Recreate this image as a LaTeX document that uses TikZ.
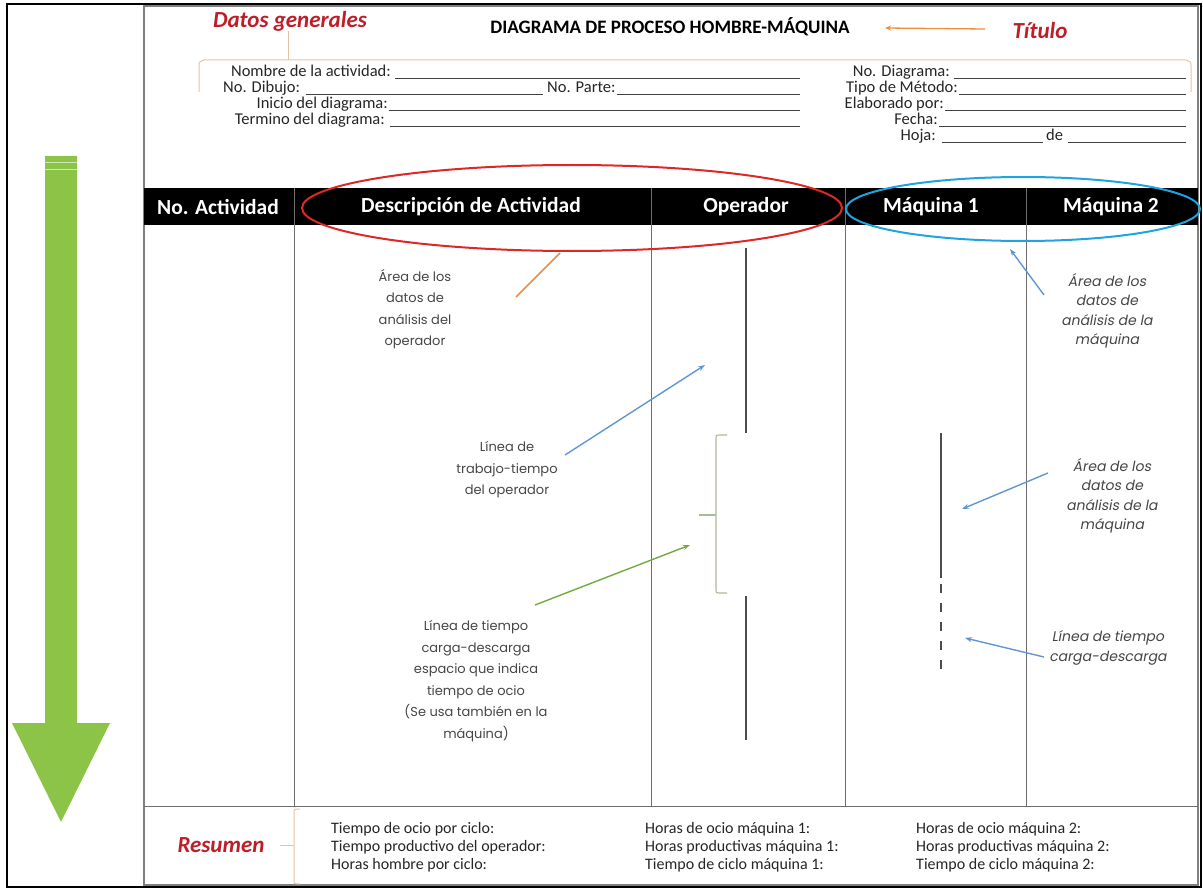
\documentclass[tikz,border=0pt]{standalone}
\usepackage{fontspec}
\setmainfont{Carlito}
\newfontfamily\gothic{Poppins}
\newfontfamily\gothicsl{Poppins}[FakeSlant=0.18]
\usetikzlibrary{arrows.meta,shapes.geometric}

\definecolor{notered}{RGB}{190,30,40}
\definecolor{ringred}{RGB}{222,40,40}
\definecolor{ringblue}{RGB}{30,165,225}
\definecolor{tipblue}{RGB}{95,150,210}
\definecolor{tipgreen}{RGB}{115,170,60}
\definecolor{tiporange}{RGB}{240,140,60}
\definecolor{bracetan}{RGB}{228,195,165}
\definecolor{bracegreen}{RGB}{170,185,150}
\definecolor{bigarrow}{RGB}{140,196,72}
\definecolor{gridgray}{RGB}{110,110,110}
\definecolor{notegray}{RGB}{70,70,70}

\begin{document}
\begin{tikzpicture}[x=1pt,y=-1pt,
  fld/.style={font=\fontsize{16.5}{18}\selectfont, text=black!85, inner sep=0pt},
  fline/.style={draw=black!75, line width=0.8pt},
  colhead/.style={font=\fontsize{21.5}{24}\selectfont\bfseries, text=white, inner sep=0pt},
  tag/.style={font=\fontsize{23}{26}\selectfont\bfseries\itshape, text=notered, inner sep=0pt},
  note/.style={font=\gothic\fontsize{13}{21.5}\selectfont, text=notegray, align=center, inner sep=0pt},
  mnote/.style={font=\gothicsl\fontsize{14}{19.5}\selectfont, text=notegray, align=center, inner sep=0pt},
  sumtxt/.style={font=\fontsize{16}{18}\selectfont, text=black!85, align=left, inner sep=0pt, anchor=west},
  pointer/.style={line width=1.4pt, -{Stealth[length=7pt,width=5pt]}},
  timebar/.style={draw=black!70, line width=2.6pt},
  grid/.style={draw=gridgray, line width=1pt},
]
\useasboundingbox (0,0) rectangle (1203,888);

% frames
\draw[line width=1.5pt] (7,4) rectangle (1201,887);
\draw[draw=gray, line width=1.2pt] (144,6) rectangle (1198,885);

% big flow arrow on the left
\fill[bigarrow] (45,156) -- (77,156) -- (77,723) -- (110,723) -- (61,822) -- (12,723) -- (45,723) -- cycle;
\draw[white!60!bigarrow, line width=1pt] (45,163) -- (77,163);
\draw[white!60!bigarrow, line width=1pt] (45,170) -- (77,170);

% header band and columns
\fill[black] (144,188) rectangle (1198,225);
\draw[grid] (294,188) -- (294,806);
\draw[grid] (651,188) -- (651,806);
\draw[grid] (845,188) -- (845,806);
\draw[grid] (1026,188) -- (1026,806);
\draw[grid] (144,806) -- (1198,806);

\node[colhead] (hnum) at (218,207) {No. Actividad};
\node[colhead] (hdesc) at (471,207) {Descripción de Actividad};
\node[colhead] (hop) at (746,207) {Operador};
\node[colhead] (hm1) at (931,207) {Máquina 1};
\node[colhead] (hm2) at (1111,207) {Máquina 2};

% title and general data
\node[font=\fontsize{19}{22}\selectfont\bfseries] (title) at (670,27) {DIAGRAMA DE PROCESO HOMBRE-MÁQUINA};
\node[tag] (titletag) at (1040,31) {Título};
\coordinate (ta) at (985,29);
\coordinate (tb) at (885,28);
\draw[tiporange, line width=1.3pt, -{Stealth[length=6pt,width=5pt]}] (ta) -- (tb);

\node[tag] (datos) at (290,21) {Datos generales};
\coordinate (dstem) at (288,60);
\draw[bracetan, line width=1pt] (datos.south -| dstem) -- (dstem);
\draw[bracetan, line width=1pt] (199,92) -- (199,66) .. controls (199,62) .. (204,60) -- (1186,60) .. controls (1191,62) .. (1191,66) -- (1191,92);

% form fields, left block
\node[fld, anchor=base east] (fnom) at (391,77) {Nombre de la actividad:};
\draw[fline] (fnom.base east) ++(4,1) -- (800,78);
\node[fld, anchor=base west] (fdib) at (223,93) {No. Dibujo:};
\draw[fline] (306,94) -- (543,94);
\node[fld, anchor=base west] (fpar) at (547,93) {No. Parte:};
\draw[fline] (fpar.base east) ++(1,1) -- (800,94);
\node[fld, anchor=base east] (fini) at (388,109) {Inicio del diagrama:};
\draw[fline] (fini.base east) ++(1,1) -- (800,110);
\node[fld, anchor=base east] (fter) at (385,125) {Termino del diagrama:};
\draw[fline] (fter.base east) ++(5,1) -- (800,126);

% form fields, right block
\node[fld, anchor=base east] (fdia) at (950,77) {No. Diagrama:};
\draw[fline] (fdia.base east) ++(4,1) -- (1186,78);
\node[fld, anchor=base east] (fmet) at (958,93) {Tipo de Método:};
\draw[fline] (fmet.base east) ++(1,1) -- (1186,94);
\node[fld, anchor=base east] (felab) at (944,109) {Elaborado por:};
\draw[fline] (felab.base east) ++(1,1) -- (1186,110);
\node[fld, anchor=base east] (ffec) at (938,125) {Fecha:};
\draw[fline] (ffec.base east) ++(1,1) -- (1186,126);
\node[fld, anchor=base east] (fhoj) at (936,141) {Hoja:};
\draw[fline] (942,142) -- (1043,142);
\node[fld, anchor=base west] (fde) at (1046,141) {de};
\draw[fline] (fde.base east) ++(5,1) -- (1186,142);

% highlight rings
\node[draw=ringred, line width=2pt, ellipse, minimum width=540pt, minimum height=86pt, inner sep=0pt] (opring) at (572,208) {};
\node[draw=ringblue, line width=2pt, ellipse, minimum width=354pt, minimum height=64pt, inner sep=0pt] (mring) at (1023,209) {};

% operator time line with idle gap
\draw[timebar] (746,248) -- (746,433);
\draw[timebar] (746,596) -- (746,740);
\draw[bracegreen, line width=1.1pt] (727,435) -- (719,435) .. controls (716,435) .. (716,438) -- (716,590) .. controls (716,593) .. (719,593) -- (727,593);
\draw[bracegreen, line width=1.1pt] (716,515) -- (699,515);

% machine time line with load/unload segment
\draw[timebar] (941,433) -- (941,578);
\draw[timebar, dash pattern=on 9pt off 10pt] (941,584) -- (941,672);

% annotations, operator side
\node[note] (opnote) at (415,309) {Área de los\\datos de\\análisis del\\operador};
\coordinate (o1) at (516,297);
\coordinate (o2) at (560,253);
\draw[tiporange, line width=1.6pt] (o1) -- (o2);

\node[note] (worknote) at (507,470) {Línea de\\trabajo-tiempo\\del operador};
\coordinate (w1) at (565,455);
\coordinate (w2) at (705,365);
\draw[pointer, tipblue] (w1) -- (w2);

\node[note] (idlenote) at (476,681) {Línea de tiempo\\carga-descarga\\espacio que indica\\tiempo de ocio\\(Se usa también en la\\máquina)};
\coordinate (g1) at (535,605);
\coordinate (g2) at (690,545);
\draw[pointer, tipgreen] (g1) -- (g2);

% annotations, machine side
\node[mnote] (m1note) at (1107,311) {Área de los\\datos de\\análisis de la\\máquina};
\coordinate (r1) at (1044,295);
\coordinate (r2) at (1010,249);
\draw[pointer, tipblue] (r1) -- (r2);

\node[mnote] (m2note) at (1112,496) {Área de los\\datos de\\análisis de la\\máquina};
\coordinate (s1) at (1048,473);
\coordinate (s2) at (962,509);
\draw[pointer, tipblue] (s1) -- (s2);

\node[mnote] (m3note) at (1108,648) {Línea de tiempo\\carga-descarga};
\coordinate (u1) at (1044,657);
\coordinate (u2) at (965,638);
\draw[pointer, tipblue] (u1) -- (u2);

% summary
\node[tag] (resumen) at (221,845) {Resumen};
\draw[bracetan, line width=1pt] (300,809) .. controls (294,809) .. (294,813) -- (294,880) .. controls (294,884) .. (300,884);
\draw[bracetan, line width=1pt] (294,845) -- (280,845);

\node[sumtxt] (s11) at (331,829) {Tiempo de ocio por ciclo:};
\node[sumtxt] (s12) at (331,847) {Tiempo productivo del operador:};
\node[sumtxt] (s13) at (331,865) {Horas hombre por ciclo:};
\node[sumtxt] (s21) at (645,829) {Horas de ocio máquina 1:};
\node[sumtxt] (s22) at (645,847) {Horas productivas máquina 1:};
\node[sumtxt] (s23) at (645,865) {Tiempo de ciclo máquina 1:};
\node[sumtxt] (s31) at (916,829) {Horas de ocio máquina 2:};
\node[sumtxt] (s32) at (916,847) {Horas productivas máquina 2:};
\node[sumtxt] (s33) at (916,865) {Tiempo de ciclo máquina 2:};
\end{tikzpicture}
\end{document}
